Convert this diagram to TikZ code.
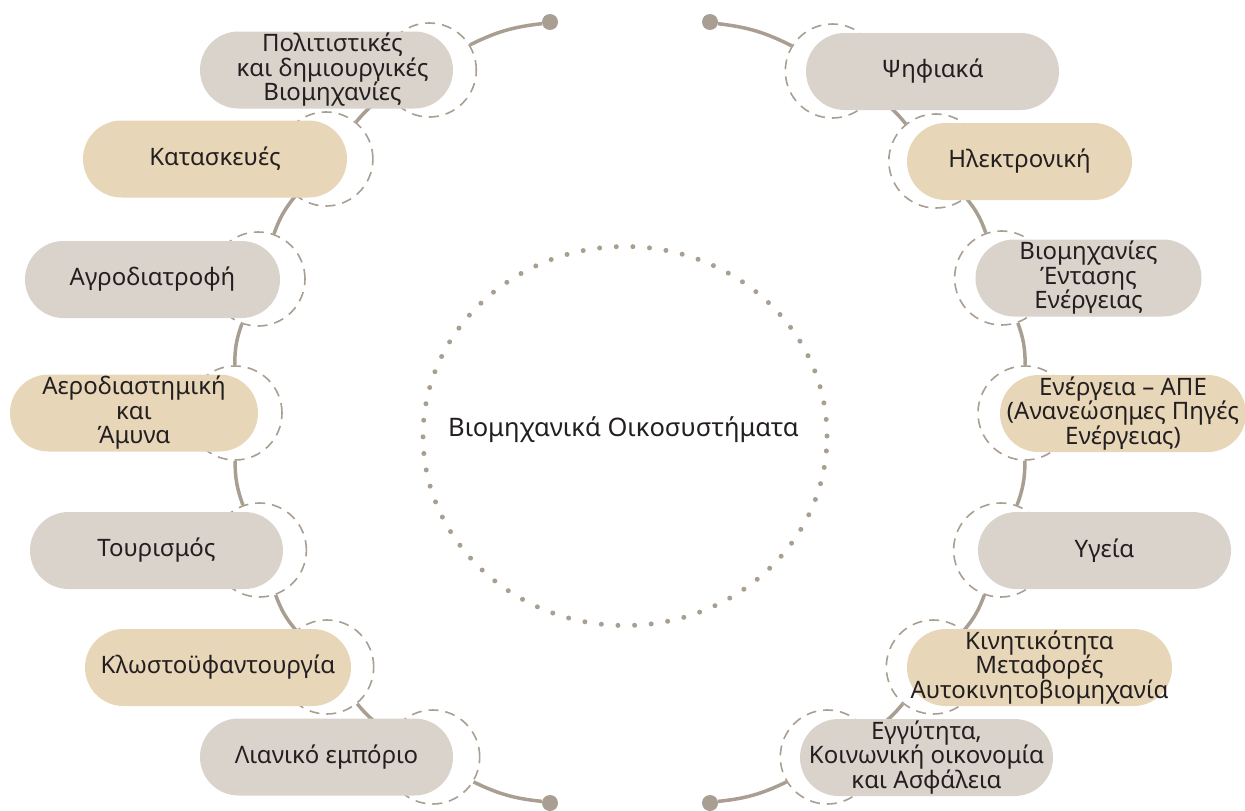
\documentclass[tikz,border=0pt]{standalone}
\usepackage{fontspec}
\setmainfont{Noto Sans}
\usetikzlibrary{shapes.geometric}
\definecolor{pillgray}{HTML}{D9D3CC}
\definecolor{pillbeige}{HTML}{E8D6B8}
\definecolor{linec}{HTML}{A99E92}
\definecolor{txt}{HTML}{231F20}
\begin{document}
\begin{tikzpicture}[x=1pt,y=-1pt,
  pill/.style={rounded corners=38.5pt, minimum height=77pt, inner sep=0pt, align=center, text=txt, font=\fontsize{24}{24.5}\selectfont},
  graypill/.style={pill, fill=pillgray},
  beigepill/.style={pill, fill=pillbeige},
  ring/.style={circle, minimum size=94pt, inner sep=0pt, draw=linec, line width=1.6pt, dash pattern=on 10pt off 7pt},
  enddot/.style={circle, fill=linec, minimum size=16pt, inner sep=0pt},
  spine/.style={draw=linec, line width=3.5pt},
  hubstyle/.style={ellipse, minimum width=404pt, minimum height=379pt, inner sep=0pt, draw=linec, line width=5pt, line cap=round, dash pattern=on 0pt off 16.65pt},
]
\useasboundingbox (0,0) rectangle (1245,811);

% central hub
\node[hubstyle] (hub) at (625,436) {};
\node[text=txt, font=\fontsize{25.5}{28}\selectfont] (title) at (623.5,430) {Βιομηχανικά Οικοσυστήματα};

% end dots
\node[enddot] (dlt) at (550,22) {};
\node[enddot] (dlb) at (550,803) {};
\node[enddot] (drt) at (710,22) {};
\node[enddot] (drb) at (710,803) {};

% rings (left)
\node[ring] (c1) at (429.3,70) {};
\node[ring] (c2) at (325.9,159) {};
\node[ring] (c3) at (258,279) {};
\node[ring] (c4) at (235,413) {};
\node[ring] (c5) at (259.4,550) {};
\node[ring] (c6) at (326.7,667) {};
\node[ring] (c7) at (432.7,757) {};
% rings (right)
\node[ring] (k1) at (832.3,71) {};
\node[ring] (k2) at (935.8,161) {};
\node[ring] (k3) at (1001.6,278) {};
\node[ring] (k4) at (1025,413) {};
\node[ring] (k5) at (1000.6,550) {};
\node[ring] (k6) at (933.3,667) {};
\node[ring] (k7) at (827.3,757) {};

% spine left
\draw[spine] (dlt) to[bend right=10] (c1);
\draw[spine] (c1) to[bend right=10] (c2);
\draw[spine] (c2) to[bend right=10] (c3);
\draw[spine] (c3) to[bend right=10] (c4);
\draw[spine] (c4) to[bend right=10] (c5);
\draw[spine] (c5) to[bend right=10] (c6);
\draw[spine] (c6) to[bend right=10] (c7);
\draw[spine] (c7) to[bend right=10] (dlb);
% spine right
\draw[spine] (drt) to[bend left=10] (k1);
\draw[spine] (k1) to[bend left=10] (k2);
\draw[spine] (k2) to[bend left=10] (k3);
\draw[spine] (k3) to[bend left=10] (k4);
\draw[spine] (k4) to[bend left=10] (k5);
\draw[spine] (k5) to[bend left=10] (k6);
\draw[spine] (k6) to[bend left=10] (k7);
\draw[spine] (k7) to[bend left=10] (drb);

% pills left
\node[graypill, minimum width=253pt] (l1) at (326.5,70) {\hspace*{12pt}Πολιτιστικές\\\hspace*{12pt}και δημιουργικές\\\hspace*{12pt}Βιομηχανίες};
\node[beigepill, minimum width=264pt] (l2) at (215,159) {Κατασκευές};
\node[graypill, minimum width=255pt] (l3) at (152.5,279.5) {Αγροδιατροφή};
\node[beigepill, minimum width=248pt] (l4) at (134,413) {Αεροδιαστημική\\και\\Άμυνα};
\node[graypill, minimum width=253pt] (l5) at (156.5,550.5) {Τουρισμός};
\node[beigepill, minimum width=266pt] (l6) at (218,667.5) {Κλωστοϋφαντουργία};
\node[graypill, minimum width=253pt] (l7) at (326.5,757) {Λιανικό εμπόριο};
% pills right
\node[graypill, minimum width=253pt] (r1) at (932.5,71.5) {Ψηφιακά};
\node[beigepill, minimum width=225pt] (r2) at (1019.5,161.5) {Ηλεκτρονική};
\node[graypill, minimum width=226pt] (r3) at (1088.5,278) {Βιομηχανίες\\Έντασης\\Ενέργειας};
\node[beigepill, minimum width=246pt] (r4) at (1123,413.5) {Ενέργεια – ΑΠΕ\\(Ανανεώσημες Πηγές\\Ενέργειας)};
\node[graypill, minimum width=253pt] (r5) at (1104.5,550.5) {Υγεία};
\node[beigepill, minimum width=265pt] (r6) at (1039.5,667.5) {Κινητικότητα\\Μεταφορές\\Αυτοκινητοβιομηχανία};
\node[graypill, minimum width=253pt] (r7) at (926.5,757.5) {Εγγύτητα,\\Κοινωνική οικονομία\\και Ασφάλεια};
\end{tikzpicture}
\end{document}
